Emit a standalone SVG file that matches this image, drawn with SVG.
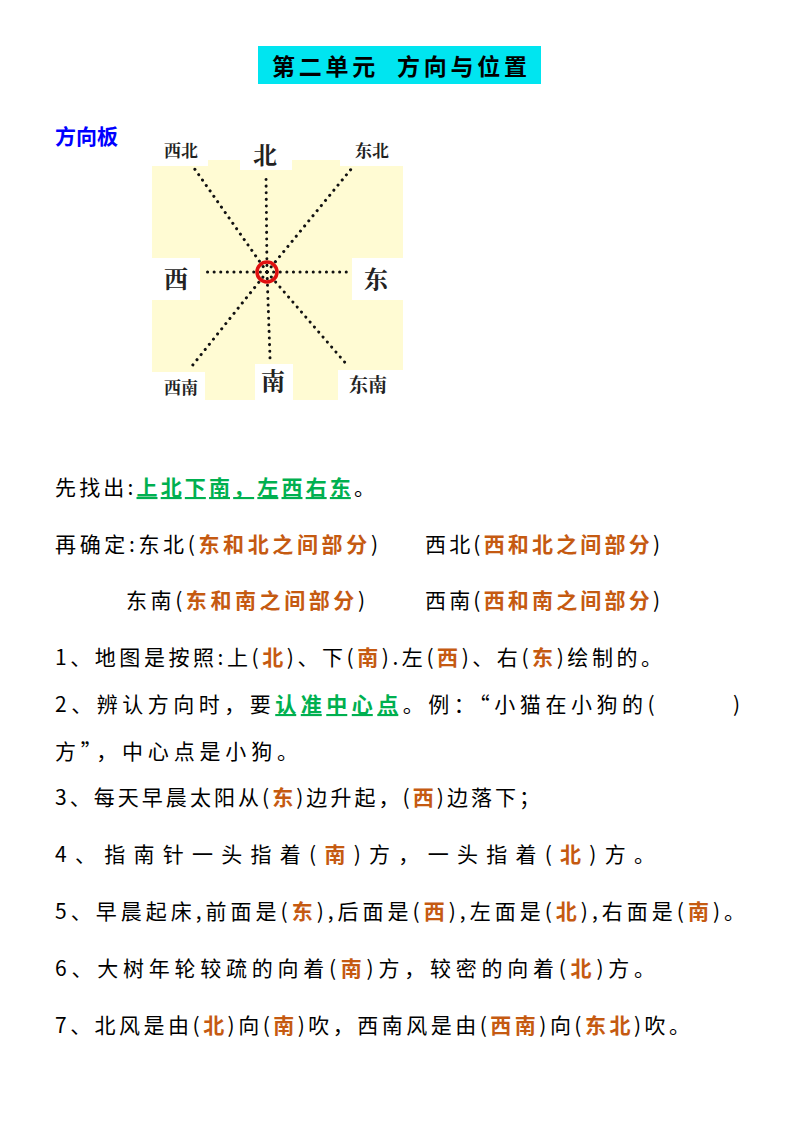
<svg xmlns="http://www.w3.org/2000/svg" width="800" height="1130" viewBox="0 0 800 1130">
<style>
text{font-family:"Noto Sans CJK SC","Liberation Sans",sans-serif;font-size:21px;fill:#000}
.o{fill:#C55A11;font-weight:bold}
.g{fill:#00B050;font-weight:bold;text-decoration:underline}
.lbl{font-family:"Noto Serif CJK SC","Noto Sans CJK SC",serif;font-weight:bold;fill:#222}
.d{stroke:#111;stroke-width:3;stroke-dasharray:0.1 6.5;stroke-linecap:round}
</style>
<rect width="800" height="1130" fill="#fff"/>
<g id="title"><rect x="258" y="46" width="283" height="38" fill="#00E5F0"/>
<text x="272" y="75" textLength="255" lengthAdjust="spacing" xml:space="preserve" style="font-size:23px;font-weight:bold">第二单元  方向与位置</text></g>
<g id="board-label"><text x="55" y="144" style="fill:#0000FF;font-weight:bold">方向板</text></g>
<g id="compass">
<rect x="152" y="160" width="251" height="240" fill="#FFFBD3"/>
<rect x="150" y="130" width="58" height="36" fill="#fff"/>
<rect x="240" y="130" width="52" height="40" fill="#fff"/>
<rect x="340" y="130" width="65" height="36" fill="#fff"/>
<rect x="150" y="258" width="50" height="42" fill="#fff"/>
<rect x="352" y="258" width="52" height="42" fill="#fff"/>
<rect x="150" y="372" width="55" height="30" fill="#fff"/>
<rect x="255" y="364" width="38" height="38" fill="#fff"/>
<rect x="338" y="370" width="67" height="32" fill="#fff"/>
<text class="lbl" x="181" y="157" text-anchor="middle" style="font-size:17px">西北</text>
<text class="lbl" x="265" y="164" text-anchor="middle" style="font-size:24px">北</text>
<text class="lbl" x="372" y="157" text-anchor="middle" style="font-size:17px">东北</text>
<text class="lbl" x="176" y="288" text-anchor="middle" style="font-size:24px">西</text>
<text class="lbl" x="376" y="288" text-anchor="middle" style="font-size:24px">东</text>
<text class="lbl" x="181" y="394" text-anchor="middle" style="font-size:17px">西南</text>
<text class="lbl" x="273" y="390" text-anchor="middle" style="font-size:24px">南</text>
<text class="lbl" x="368" y="392" text-anchor="middle" style="font-size:19px">东南</text>
</g>
<g id="connectors">
<line class="d" x1="267" y1="272" x2="266" y2="175"/>
<line class="d" x1="267" y1="272" x2="270" y2="358"/>
<line class="d" x1="267" y1="272" x2="203" y2="272"/>
<line class="d" x1="267" y1="272" x2="348" y2="272"/>
<line class="d" x1="267" y1="272" x2="194" y2="168"/>
<line class="d" x1="267" y1="272" x2="352" y2="168"/>
<line class="d" x1="267" y1="272" x2="192" y2="366"/>
<line class="d" x1="267" y1="272" x2="348" y2="366"/>
</g>
<g id="center"><circle cx="267" cy="272" r="10" fill="none" stroke="#E01010" stroke-width="3.5"/></g>
<g id="text">
<text x="55" y="495" textLength="320" lengthAdjust="spacing">先找出:<tspan class="g">上北下南，左西右东</tspan>。</text>
<text x="55" y="552" textLength="323" lengthAdjust="spacing">再确定:东北(<tspan class="o">东和北之间部分</tspan>)</text>
<text x="425" y="552" textLength="235" lengthAdjust="spacing">西北(<tspan class="o">西和北之间部分</tspan>)</text>
<text x="126" y="608" textLength="239" lengthAdjust="spacing">东南(<tspan class="o">东和南之间部分</tspan>)</text>
<text x="425" y="608" textLength="235" lengthAdjust="spacing">西南(<tspan class="o">西和南之间部分</tspan>)</text>
<text x="55" y="665" textLength="607" lengthAdjust="spacing">1、地图是按照:上(<tspan class="o">北</tspan>)、下(<tspan class="o">南</tspan>).左(<tspan class="o">西</tspan>)、右(<tspan class="o">东</tspan>)绘制的。</text>
<text x="55" y="712" textLength="685" lengthAdjust="spacing" xml:space="preserve">2、辨认方向时，要<tspan class="g">认准中心点</tspan>。例：“小猫在小狗的(        )</text>
<text x="55" y="759" textLength="243" lengthAdjust="spacing">方”，中心点是小狗。</text>
<text x="55" y="805" textLength="485" lengthAdjust="spacing">3、每天早晨太阳从(<tspan class="o">东</tspan>)边升起，(<tspan class="o">西</tspan>)边落下；</text>
<text x="55" y="862" textLength="600" lengthAdjust="spacing">4、指南针一头指着(<tspan class="o">南</tspan>)方，一头指着(<tspan class="o">北</tspan>)方。</text>
<text x="55" y="919" textLength="690" lengthAdjust="spacing">5、早晨起床,前面是(<tspan class="o">东</tspan>),后面是(<tspan class="o">西</tspan>),左面是(<tspan class="o">北</tspan>),右面是(<tspan class="o">南</tspan>)。</text>
<text x="55" y="976" textLength="600" lengthAdjust="spacing">6、大树年轮较疏的向着(<tspan class="o">南</tspan>)方，较密的向着(<tspan class="o">北</tspan>)方。</text>
<text x="55" y="1033" textLength="635" lengthAdjust="spacing">7、北风是由(<tspan class="o">北</tspan>)向(<tspan class="o">南</tspan>)吹，西南风是由(<tspan class="o">西南</tspan>)向(<tspan class="o">东北</tspan>)吹。</text>
</g>
</svg>
